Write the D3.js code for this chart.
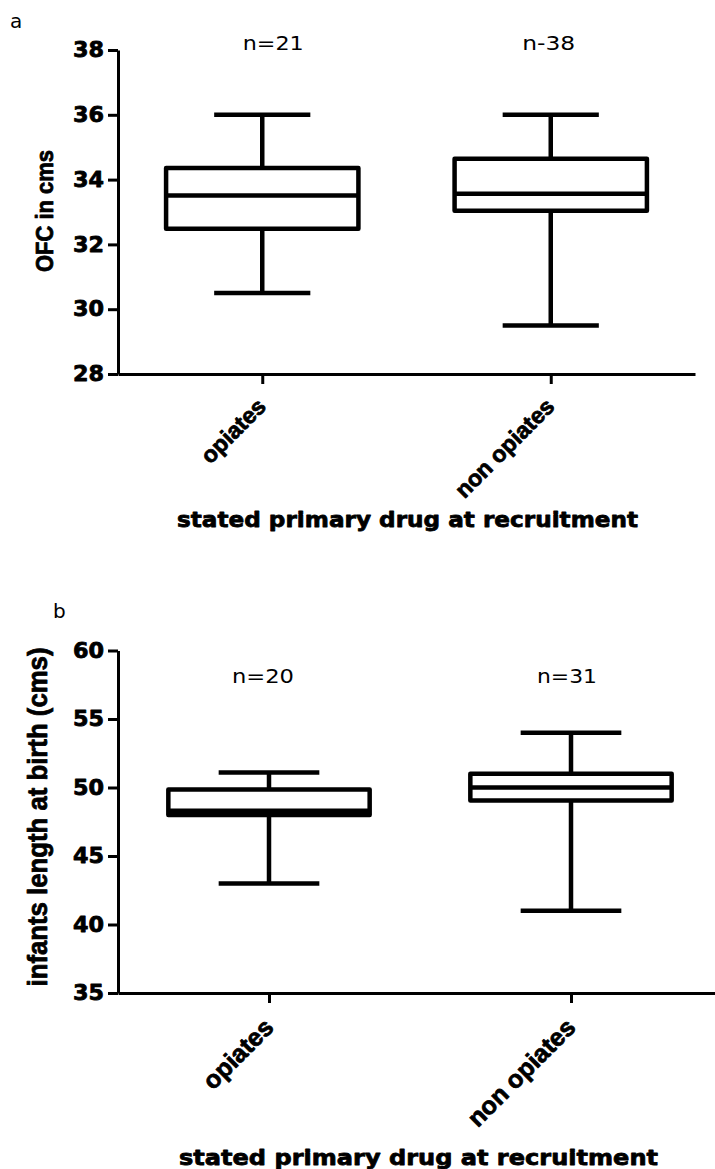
<!DOCTYPE html>
<html>
<head>
<meta charset="utf-8">
<script src="https://cdn.jsdelivr.net/npm/d3@7"></script>
<style>
  html, body { margin: 0; padding: 0; background: #fff; }
  svg { display: block; }
  .heavy { stroke: #000; stroke-width: 0.8px; stroke-linejoin: round; }
</style>
</head>
<body>
<svg id="chart" width="715" height="1169"></svg>
<script>
// ---------- data ----------
const categories = ["opiates", "non opiates"];

// panel a: OFC in cms
const ofcMin    = [30.5, 29.5];
const ofcQ1     = [32.48, 33.04];
const ofcMedian = [33.51, 33.56];
const ofcQ3     = [34.36, 34.64];
const ofcMax    = [36.0, 36.0];
const ofcN      = ["n=21", "n-38"];
const ofcTicks  = [28, 30, 32, 34, 36, 38];

// panel b: infants length at birth (cms)
const lenMin    = [43.0, 41.0];
const lenQ1     = [48.0, 49.05];
const lenMedian = [48.3, 50.0];
const lenQ3     = [49.85, 51.0];
const lenMax    = [51.1, 54.0];
const lenN      = ["n=20", "n=31"];
const lenTicks  = [35, 40, 45, 50, 55, 60];

const xTitle = "stated primary drug at recruitment";

// ---------- drawing ----------
const svg = d3.select("#chart");

function panel(cfg) {
  const g = svg.append("g");
  const x = d3.scalePoint().domain(categories).range(cfg.xRange).padding(0.5);
  const y = d3.scaleLinear().domain(d3.extent(cfg.ticks)).range(cfg.yRange);
  const step = x.step();
  const boxW = step * 2 / 3;
  const capW = step / 3;

  const rows = categories.map((c, i) => ({
    cat: c, min: cfg.min[i], q1: cfg.q1[i], med: cfg.med[i], q3: cfg.q3[i], max: cfg.max[i], n: cfg.n[i]
  }));

  // y axis
  const ya = g.append("g")
    .attr("transform", `translate(${cfg.xRange[0]},0)`)
    .call(d3.axisLeft(y).tickValues(cfg.ticks).tickSize(10).tickSizeOuter(0).tickPadding(4).tickFormat(d3.format("d")));
  ya.select(".domain").attr("stroke", "#000").attr("stroke-width", 3);
  ya.selectAll(".tick line").attr("stroke", "#000").attr("stroke-width", 3);
  ya.selectAll(".tick text")
    .attr("fill", "#000")
    .attr("class", "heavy")
    .style("font-family", "'DejaVu Sans', sans-serif")
    .style("font-weight", "bold")
    .style("font-size", "21px")
    .attr("textLength", 31).attr("lengthAdjust", "spacingAndGlyphs");

  // x axis
  const xa = g.append("g")
    .attr("transform", `translate(0,${cfg.yRange[0]})`)
    .call(d3.axisBottom(x).tickSize(10).tickSizeOuter(0).tickFormat(""));
  xa.select(".domain").attr("stroke", "#000").attr("stroke-width", 3);
  xa.selectAll(".tick line").attr("stroke", "#000").attr("stroke-width", 3);

  // category labels
  g.selectAll("text.cat").data(rows).join("text")
    .attr("class", "cat heavy")
    .attr("transform", d => `translate(${x(d.cat) + cfg.catDx},${cfg.yRange[0] + cfg.catDy}) rotate(-45)`)
    .attr("text-anchor", "end")
    .style("font-family", "'Liberation Sans', Arial, sans-serif")
    .style("font-weight", "bold")
    .style("font-size", cfg.catSize + "px")
    .attr("fill", "#000")
    .text(d => d.cat);

  // whiskers
  const sw = 4.5;
  g.selectAll("line.whisk").data(rows).join("line")
    .attr("x1", d => x(d.cat)).attr("x2", d => x(d.cat))
    .attr("y1", d => y(d.min)).attr("y2", d => y(d.max))
    .attr("stroke", "#000").attr("stroke-width", sw);
  g.selectAll("line.capTop").data(rows).join("line")
    .attr("x1", d => x(d.cat) - capW / 2).attr("x2", d => x(d.cat) + capW / 2)
    .attr("y1", d => y(d.max)).attr("y2", d => y(d.max))
    .attr("stroke", "#000").attr("stroke-width", sw);
  g.selectAll("line.capBot").data(rows).join("line")
    .attr("x1", d => x(d.cat) - capW / 2).attr("x2", d => x(d.cat) + capW / 2)
    .attr("y1", d => y(d.min)).attr("y2", d => y(d.min))
    .attr("stroke", "#000").attr("stroke-width", sw);

  // boxes
  g.selectAll("rect.box").data(rows).join("rect")
    .attr("x", d => x(d.cat) - boxW / 2)
    .attr("width", boxW)
    .attr("y", d => y(d.q3))
    .attr("height", d => y(d.q1) - y(d.q3))
    .attr("fill", "#fff").attr("stroke", "#000").attr("stroke-width", sw)
    .attr("stroke-linejoin", "round");
  g.selectAll("line.med").data(rows).join("line")
    .attr("x1", d => x(d.cat) - boxW / 2).attr("x2", d => x(d.cat) + boxW / 2)
    .attr("y1", d => y(d.med)).attr("y2", d => y(d.med))
    .attr("stroke", "#000").attr("stroke-width", sw);

  // n labels
  g.selectAll("text.n").data(rows).join("text")
    .attr("x", (d, i) => x(d.cat) + cfg.nDx[i])
    .attr("y", cfg.nY)
    .attr("text-anchor", "middle")
    .style("font-family", "'DejaVu Sans', sans-serif")
    .style("font-size", "20px")
    .attr("fill", "#000")
    .attr("textLength", (d, i) => cfg.nLen[i]).attr("lengthAdjust", "spacingAndGlyphs")
    .text(d => d.n);

  // y title
  g.append("text")
    .attr("class", "heavy")
    .attr("transform", `translate(${cfg.yTitleX},${cfg.yTitleY}) rotate(-90)`)
    .attr("text-anchor", "middle")
    .style("font-family", "'Liberation Sans', Arial, sans-serif")
    .style("font-weight", "bold")
    .style("font-size", cfg.yTitleSize + "px")
    .attr("fill", "#000")
    .attr("textLength", cfg.yTitleLen).attr("lengthAdjust", "spacingAndGlyphs")
    .text(cfg.yTitle);

  // x title
  g.append("text")
    .attr("class", "heavy")
    .attr("x", cfg.xTitleX).attr("y", cfg.xTitleY)
    .attr("text-anchor", "middle")
    .style("font-family", "'DejaVu Sans', sans-serif")
    .style("font-weight", "bold")
    .style("font-size", "22px")
    .attr("fill", "#000")
    .attr("textLength", cfg.xTitleLen).attr("lengthAdjust", "spacingAndGlyphs")
    .text(xTitle);

  // panel letter
  g.append("text")
    .attr("x", cfg.letterX).attr("y", cfg.letterY)
    .style("font-family", "'DejaVu Sans', sans-serif")
    .style("font-size", "20px")
    .attr("fill", "#000")
    .text(cfg.letter);
}

panel({
  xRange: [118, 695], yRange: [374, 50], ticks: ofcTicks,
  min: ofcMin, q1: ofcQ1, med: ofcMedian, q3: ofcQ3, max: ofcMax, n: ofcN,
  nDx: [11, -2], nLen: [61, 53], nY: 50,
  catDx: 5, catDy: 34, catSize: 23,
  yTitle: "OFC in cms", yTitleX: 53, yTitleY: 211, yTitleSize: 24, yTitleLen: 122,
  xTitleX: 407.5, xTitleY: 527, xTitleLen: 461,
  letter: "a", letterX: 10, letterY: 28
});

panel({
  xRange: [118, 722], yRange: [993, 650.5], ticks: lenTicks,
  min: lenMin, q1: lenQ1, med: lenMedian, q3: lenQ3, max: lenMax, n: lenN,
  nDx: [-6, -4], nLen: [62, 60], nY: 683,
  catDx: 6, catDy: 36, catSize: 25,
  yTitle: "infants length at birth (cms)", yTitleX: 47, yTitleY: 817, yTitleSize: 27, yTitleLen: 339,
  xTitleX: 418.5, xTitleY: 1165, xTitleLen: 479,
  letter: "b", letterX: 53, letterY: 618
});
</script>
</body>
</html>
